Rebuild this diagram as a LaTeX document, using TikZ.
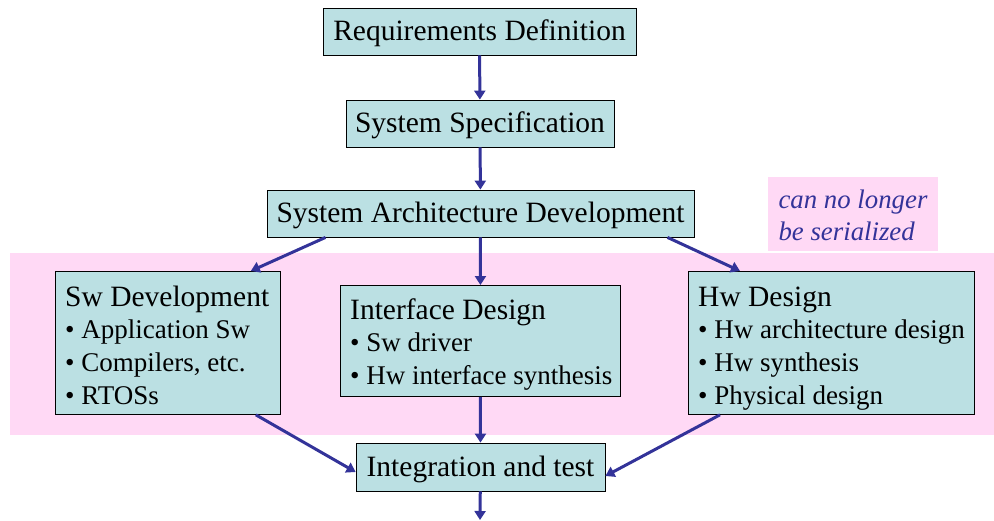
\documentclass[tikz,border=0pt]{standalone}
\usepackage{fontspec}
\setmainfont{Liberation Serif}
\usetikzlibrary{arrows.meta}
\definecolor{boxfill}{HTML}{BBE0E3}
\definecolor{bandpink}{HTML}{FFD9F5}
\definecolor{arrowblue}{HTML}{333399}
\newcommand{\itemfont}{\fontsize{27}{32.7}\selectfont}
\tikzset{
  stage/.style={draw=black, line width=0.8pt, fill=boxfill, inner sep=0pt, text height=20pt, text depth=2pt,
                font=\fontsize{29.5}{32.7}\selectfont},
  stagetext/.style={anchor=north west, inner sep=0pt, font=\fontsize{29.5}{32.7}\selectfont},
  flow/.style={draw=arrowblue, line width=3pt, -{Triangle[length=9pt,width=11pt]}},
}
\begin{document}
\begin{tikzpicture}[x=1pt,y=-1pt]
\useasboundingbox (0,0) rectangle (994,520);
% band of concurrent activities
\fill[bandpink] (10,253) rectangle (994,435);
\node[fill=bandpink, minimum width=170pt, minimum height=74pt, inner sep=0pt] (note) at (853,214) {};
\node[inner sep=0pt, text=arrowblue, font=\fontsize{26.8}{32.5}\selectfont\itshape] (notetext)
      at ([yshift=-4pt]note.center)
      {\begin{tabular}{@{}l@{}}can no longer\\be serialized\end{tabular}};
% sequential stages
\node[stage, minimum width=313pt, minimum height=47pt] (req) at (479.5,31.5) {Requirements Definition};
\node[stage, minimum width=268pt, minimum height=47pt] (spec) at (480,123.5) {System Specification};
\node[stage, minimum width=427pt, minimum height=47pt] (arch) at (480.5,213.5) {System Architecture Development};
% parallel stages: boxes
\node[stage, minimum width=225pt, minimum height=143pt, anchor=north west] (sw) at (55,271) {};
\node[stage, minimum width=280pt, minimum height=111pt, anchor=north west] (ifd) at (340,285) {};
\node[stage, minimum width=286pt, minimum height=143pt, anchor=north west] (hw) at (688,271) {};
% parallel stages: contents
\node[stagetext] (swtext) at ([shift={(10,12)}]sw.north west)
  {\begin{tabular}[t]{@{}l@{}}Sw Development\\
   {\itemfont\textbullet\ Application Sw}\\
   {\itemfont\textbullet\ Compilers, etc.}\\
   {\itemfont\textbullet\ RTOSs}\end{tabular}};
\node[stagetext] (ifdtext) at ([shift={(10,11)}]ifd.north west)
  {\begin{tabular}[t]{@{}l@{}}Interface Design\\
   {\itemfont\textbullet\ Sw driver}\\
   {\itemfont\textbullet\ Hw interface synthesis}\end{tabular}};
\node[stagetext] (hwtext) at ([shift={(10,12)}]hw.north west)
  {\begin{tabular}[t]{@{}l@{}}Hw Design\\
   {\itemfont\textbullet\ Hw architecture design}\\
   {\itemfont\textbullet\ Hw synthesis}\\
   {\itemfont\textbullet\ Physical design}\end{tabular}};
\node[stage, minimum width=249pt, minimum height=48pt] (integ) at (480.5,467) {Integration and test};
\coordinate (out) at (480,520);
% connectors
\draw[flow] (req) -- (spec);
\draw[flow] (spec) -- (arch);
\draw[flow] (arch.south) ++(-155,0) -- ([xshift=-30pt]sw.north east);
\draw[flow] (arch) -- (ifd);
\draw[flow] (arch.south) ++(187,0) -- ([xshift=52pt]hw.north west);
\draw[flow] (ifd) -- (integ);
\draw[flow] ([xshift=-25pt]sw.south east) -- ([yshift=-5pt]integ.west);
\draw[flow] ([xshift=32pt]hw.south west) -- ([yshift=-9pt]integ.east);
\draw[flow] (integ) -- (out);
\end{tikzpicture}
\end{document}
